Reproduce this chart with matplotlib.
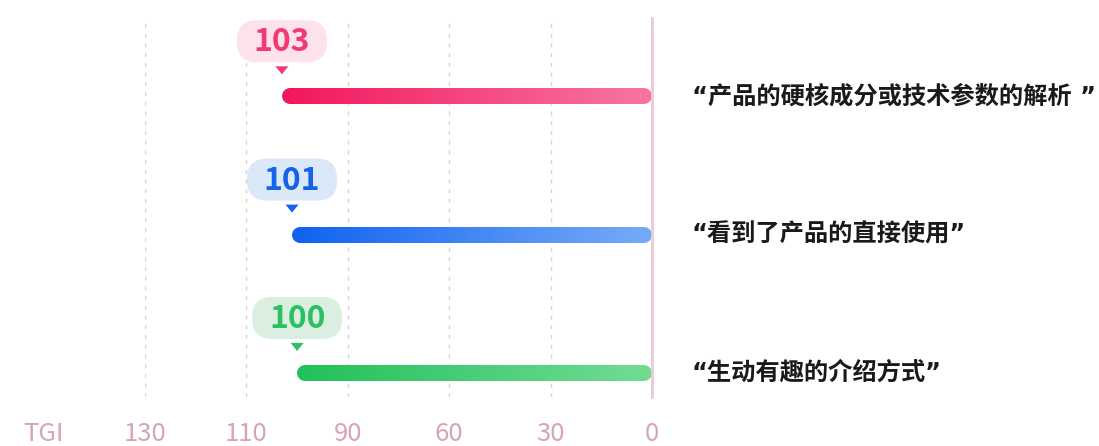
'''
TGI bar chart: what content users want to see
'''
import numpy as np
import matplotlib
matplotlib.use('Agg')
import matplotlib.pyplot as plt
import matplotlib.transforms as mtransforms
from matplotlib.collections import LineCollection
from matplotlib.patches import FancyBboxPatch, Polygon
from matplotlib.colors import to_rgb

#%%
# data
categories = ['“产品的硬核成分或技术参数的解析 ”',
              '“看到了产品的直接使用”',
              '“生动有趣的介绍方式”']
tgi_values = [103, 101, 100]
tick_values = [0, 30, 60, 90, 110, 130]
tick_labels = ['0', '30', '60', '90', '110', '130']

bar_left_colors = ['#f2175c', '#0f62f0', '#22c05a']
bar_right_colors = ['#f7739c', '#73a8f7', '#6edb91']
bubble_colors = ['#fde2eb', '#dbe8f8', '#dbefe1']
label_colors = ['#f23a72', '#1463e8', '#2cc062']

#%%
# setup
plt.rcParams['font.family'] = ['Noto Sans CJK SC', 'DejaVu Sans']

fig = plt.figure(figsize=(10.99, 4.46), dpi=100)
ax = fig.add_axes([145 / 1099, 49 / 446, 507 / 1099, 379 / 446])

# the axis ticks are equally spaced but not linear in value
def fwd(v):
    return np.interp(v, tick_values, np.arange(len(tick_values)))

def inv(i):
    return np.interp(i, np.arange(len(tick_values)), tick_values)

ax.set_xscale('function', functions=(fwd, inv))
ax.set_xlim(130, 0)
ax.set_ylim(2.174, -0.566)
for s in ax.spines.values():
    s.set_visible(False)
ax.set_yticks([])
ax.set_xticks(tick_values)
ax.set_xticklabels(tick_labels, fontsize=18.5, color='#d6a5b2', fontweight='light')
ax.tick_params(axis='x', length=0, pad=17.5)
ax.text(44 / 1099, 12 / 446, 'TGI', transform=fig.transFigure, fontsize=18.5,
        color='#d6a5b2', fontweight='light', ha='center', va='center')

# grid and zero line
for t in tick_values[1:]:
    ax.axvline(t, color='#d6d6d6', lw=1, dashes=(3, 4), zorder=0)
ax.axvline(0, color='#efc8d4', lw=2, zorder=3, clip_on=False)

#%%
# bars with gradient and labels
r = 8  # half bar height in px
n_seg = 200
for i, (v, cat) in enumerate(zip(tgi_values, categories)):
    p0, p1 = ax.transData.transform([(v, i), (0, i)])
    xs = np.linspace(p0[0] + r, p1[0] - r, n_seg + 1)
    segs = [[(xs[k], p0[1]), (xs[k + 1], p0[1])] for k in range(n_seg)]
    c0 = np.array(to_rgb(bar_left_colors[i]))
    c1 = np.array(to_rgb(bar_right_colors[i]))
    cols = [c0 + (c1 - c0) * k / (n_seg - 1) for k in range(n_seg)]
    lc = LineCollection(segs, colors=cols, linewidths=2 * r * 72 / 100,
                        capstyle='round', transform=mtransforms.IdentityTransform(),
                        zorder=2, clip_on=False)
    ax.add_collection(lc, autolim=False)

    # bubble above the end of the bar, sized in inches
    trans = fig.dpi_scale_trans + mtransforms.ScaledTranslation(v, i, ax.transData)
    bub = FancyBboxPatch((-0.45, 0.34), 0.9, 0.42,
                         boxstyle='round,pad=0,rounding_size=0.2',
                         fc=bubble_colors[i], ec='none', transform=trans, clip_on=False)
    ax.add_patch(bub)
    tri = Polygon([(-0.065, 0.30), (0.065, 0.30), (0, 0.22)], closed=True,
                  fc=label_colors[i], ec='none', transform=trans, clip_on=False)
    ax.add_patch(tri)
    ax.text(0, 0.54, str(v), transform=trans, ha='center', va='center',
            fontsize=23, fontweight='bold', color=label_colors[i])

    ax.text((692 - 145) / 507, i, cat, transform=ax.get_yaxis_transform(),
            ha='left', va='center', fontsize=17.5, fontweight='bold', color='#1a1a1a',
            family=['DejaVu Sans', 'Noto Sans CJK SC'])

plt.savefig('out.png', dpi=100)
